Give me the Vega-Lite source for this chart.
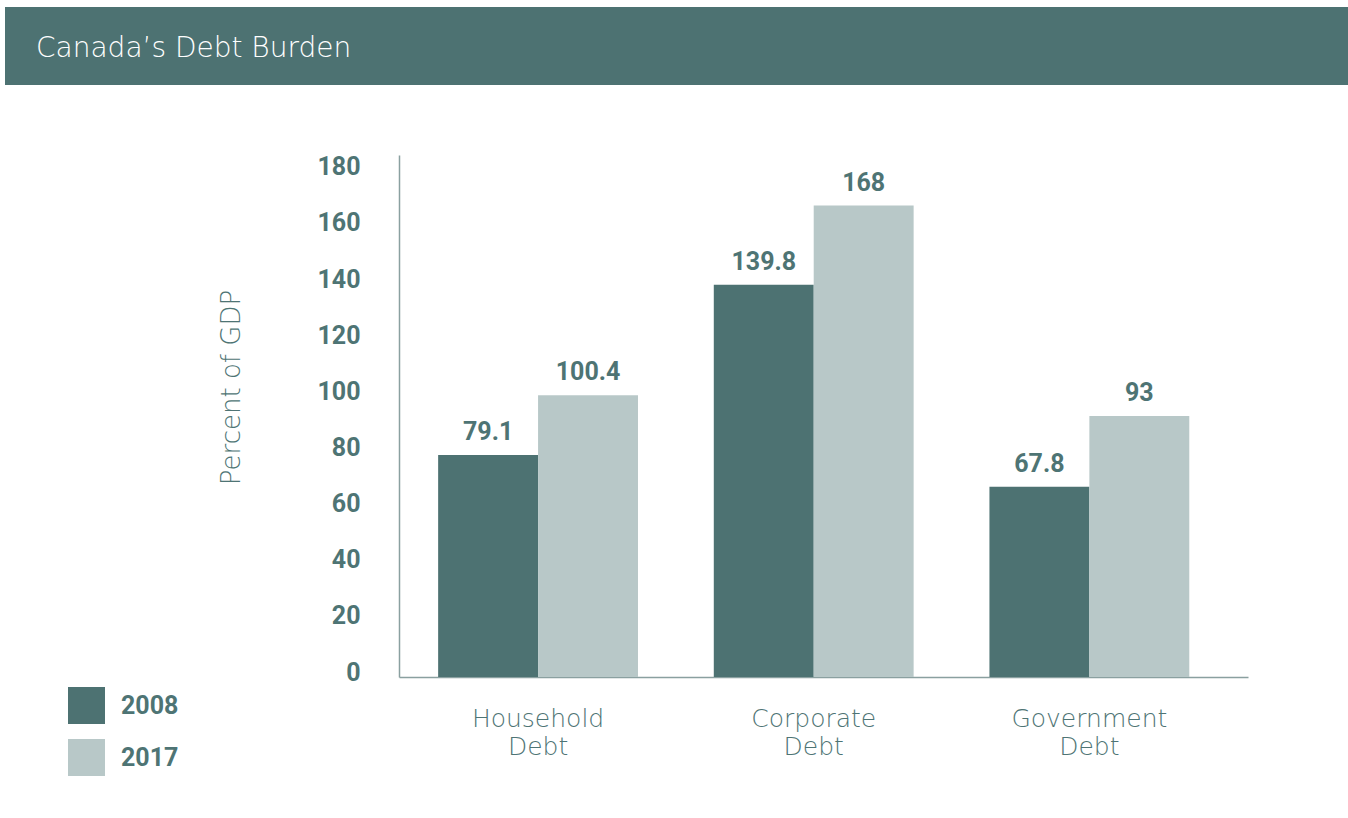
{
  "$schema": "https://vega.github.io/schema/vega-lite/v6.json",
  "padding": {"left": 5, "top": 7, "right": 0, "bottom": 0},
  "background": "white",
  "config": {"view": {"stroke": null}},
  "spacing": 69,
  "vconcat": [
    {
      "width": 1343,
      "height": 78,
      "data": {"values": [{"k": 1}]},
      "title": {
        "text": "Canada’s Debt Burden",
        "anchor": "start",
        "frame": "group",
        "orient": "top",
        "offset": -70,
        "baseline": "middle",
        "dx": 31,
        "color": "white",
        "font": "DejaVu Sans",
        "fontSize": 28,
        "fontWeight": 200
      },
      "mark": {"type": "bar", "color": "#4d7272"},
      "encoding": {}
    },
    {
      "spacing": 0,
      "hconcat": [
        {
          "width": 212,
          "height": 10,
          "data": {"values": [{"k": 1}]},
          "mark": {"type": "bar", "opacity": 0},
          "encoding": {}
        },
        {
          "width": 849,
          "height": 522,
          "data": {
            "values": [
              {"category": "Household Debt", "year": "2008", "value": 79.1},
              {"category": "Household Debt", "year": "2017", "value": 100.4},
              {"category": "Corporate Debt", "year": "2008", "value": 139.8},
              {"category": "Corporate Debt", "year": "2017", "value": 168},
              {"category": "Government Debt", "year": "2008", "value": 67.8},
              {"category": "Government Debt", "year": "2017", "value": 93}
            ]
          },
          "encoding": {
            "x": {
              "field": "category",
              "type": "nominal",
              "sort": ["Household Debt", "Corporate Debt", "Government Debt"],
              "scale": {"paddingInner": 0.275, "paddingOuter": 0.1775, "align": 0.4},
              "axis": {
                "title": null,
                "labelAngle": 0,
                "labelExpr": "split(datum.label, ' ')",
                "labelLineHeight": 28,
                "labelPadding": 29,
                "labelFont": "DejaVu Sans",
                "labelFontWeight": 200,
                "labelFontSize": 25,
                "labelColor": "#4e7474",
                "ticks": false,
                "domainColor": "#8aa0a0",
                "domainWidth": 1.5
              }
            },
            "xOffset": {
              "field": "year",
              "type": "nominal",
              "scale": {"paddingInner": 0, "paddingOuter": 0}
            },
            "y": {
              "field": "value",
              "type": "quantitative",
              "scale": {"domain": [0, 186], "nice": false},
              "axis": {
                "values": [0, 20, 40, 60, 80, 100, 120, 140, 160, 180],
                "grid": false,
                "ticks": false,
                "domainColor": "#8aa0a0",
                "domainWidth": 1.5,
                "labelFont": "Roboto",
                "labelFontWeight": "bold",
                "labelFontSize": 25,
                "labelColor": "#4e7474",
                "labelPadding": 39,
                "labelOffset": -5,
                "title": "Percent of GDP",
                "titleFont": "DejaVu Sans",
                "titleFontWeight": 200,
                "titleFontSize": 26,
                "titleColor": "#4e7474",
                "titleAngle": -90,
                "titleAlign": "center",
                "titleBaseline": "bottom",
                "titleX": -155,
                "titleY": 232
              }
            }
          },
          "layer": [
            {
              "mark": {"type": "bar"},
              "encoding": {
                "color": {
                  "field": "year",
                  "type": "nominal",
                  "scale": {"domain": ["2008", "2017"], "range": ["#4d7272", "#b8c8c8"]},
                  "legend": {
                    "title": null,
                    "orient": "none",
                    "legendX": 63,
                    "legendY": 680,
                    "padding": 0,
                    "symbolType": "square",
                    "symbolSize": 1369,
                    "symbolStrokeWidth": 0,
                    "symbolOpacity": 1,
                    "labelFont": "Roboto",
                    "labelFontWeight": "bold",
                    "labelFontSize": 25,
                    "labelColor": "#4e7474",
                    "labelOffset": 16,
                    "rowPadding": 15
                  }
                }
              }
            },
            {
              "mark": {
                "type": "text",
                "baseline": "alphabetic",
                "dy": -15,
                "font": "Roboto",
                "fontWeight": "bold",
                "fontSize": 25,
                "color": "#4e7474"
              },
              "encoding": {"text": {"field": "value", "type": "quantitative"}}
            }
          ]
        }
      ]
    }
  ]
}
